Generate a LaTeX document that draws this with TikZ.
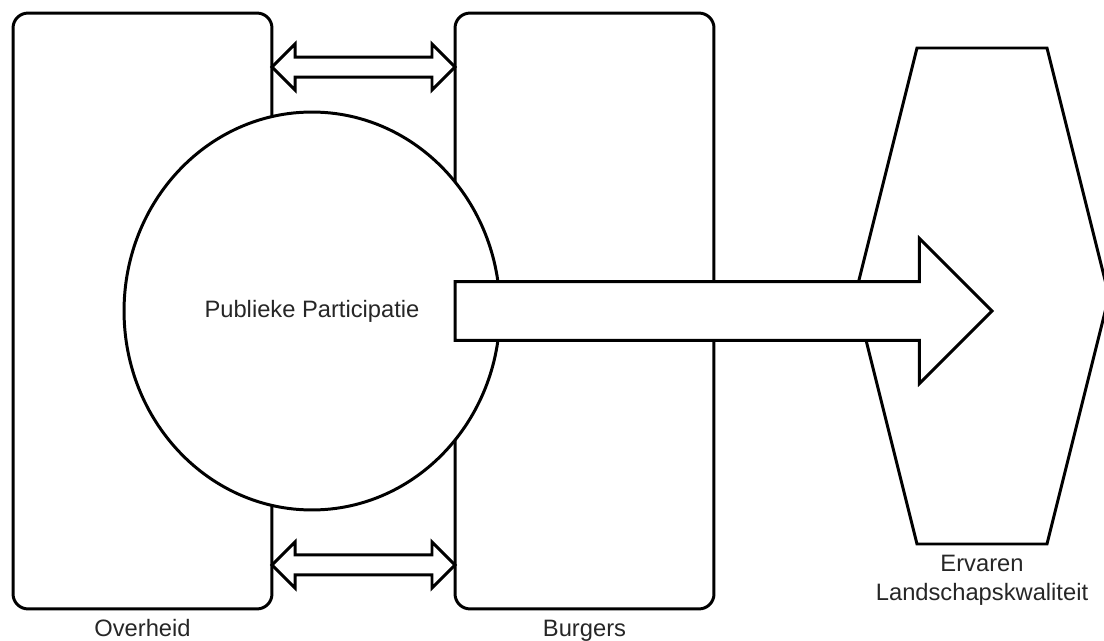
\documentclass[tikz,border=0pt]{standalone}
\usepackage{fontspec}
\setmainfont{Liberation Sans}
\usetikzlibrary{
    shapes.geometric,
    shapes.arrows,
    calc,
    positioning
}

\begin{document}
\begin{tikzpicture}[
    x=0.02cm, y=-0.02cm,
    every node/.style={font=\fontsize{13.5}{16.5}\selectfont, text=black!85},
    party/.style={draw, line width=1.7pt, rounded corners=0.3cm,
        minimum width=5.18cm, minimum height=11.92cm, inner sep=0pt, outer sep=0pt},
    lbl/.style={inner sep=0pt, align=center},
    hub/.style={ellipse, draw, fill=white, line width=1.7pt,
        minimum width=7.52cm, minimum height=7.96cm, inner sep=0pt},
    link/.style={double arrow, draw, fill=white, line width=1.7pt, inner sep=0.17cm,
        double arrow head extend=0.26cm, minimum height=3.66cm, outer sep=0pt},
    flow/.style={single arrow, draw, fill=white, line width=1.7pt, inner sep=0.56cm,
        single arrow head extend=0.86cm, minimum height=10.74cm, outer sep=0pt}
]
    \useasboundingbox (0,0) rectangle (1104,641);
    \clip (0,0) rectangle (1104,641);

    \node[party] (overheid) at (142.5,311) {};
    \node[party] (burgers) at (584.5,311) {};
    \node[lbl, below=0.21cm of overheid] (overheidlbl) {Overheid};
    \node[lbl, below=0.21cm of burgers] (burgerslbl) {Burgers};

    % kwaliteit
    \draw[line width=1.7pt] (917,48) -- (1047,48) -- (1109,296) -- (1047,544)
        -- (917,544) -- (855,296) -- cycle;
    \node[lbl, anchor=north] (kwaliteit) at (982,554.5) {Ervaren\\Landschapskwaliteit};

    \node[link] (linktop) at ($(overheid.north east)!0.5!(burgers.north west)+(0,54)$) {};
    \node[link] (linkbot) at ($(overheid.south east)!0.5!(burgers.south west)+(0,-44)$) {};

    \node[hub] (participatie) at (312,311) {Publieke Participatie};
    \node[flow, anchor=tail] (effect) at (burgers.west) {};
\end{tikzpicture}
\end{document}
